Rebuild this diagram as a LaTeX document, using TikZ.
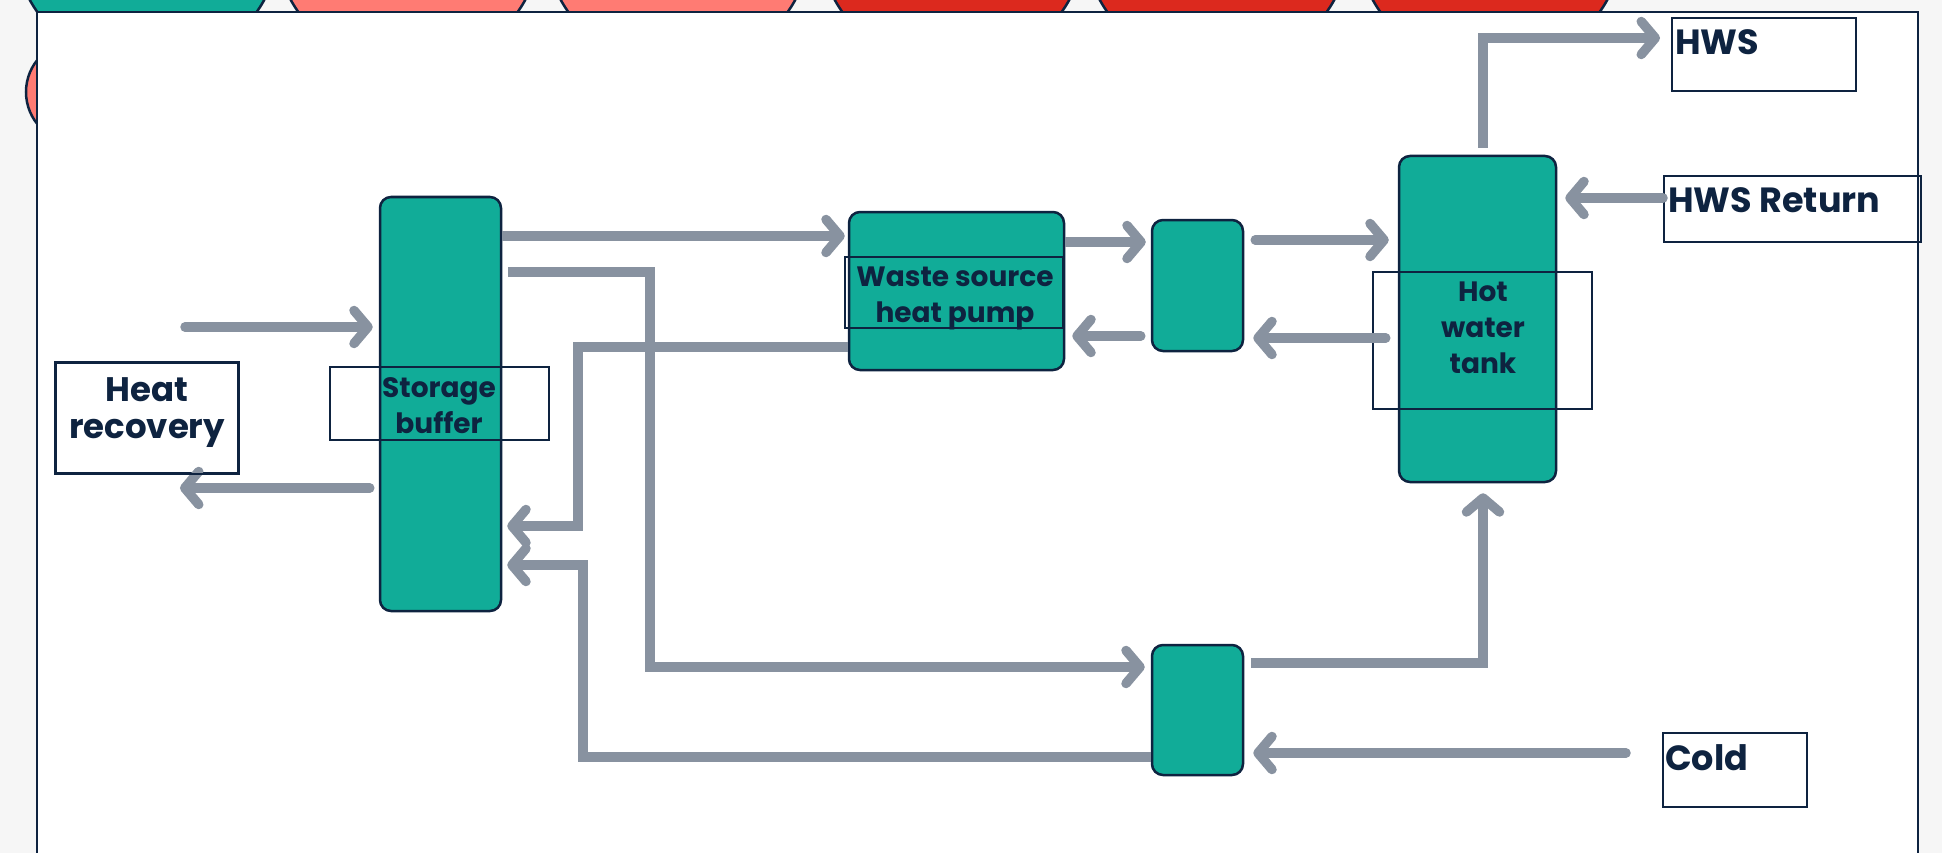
\documentclass[tikz,border=0pt]{standalone}
\usepackage{fontspec}
\setmainfont{Poppins}
\usetikzlibrary{arrows.meta,calc}
\definecolor{boxteal}{RGB}{17,172,152}
\definecolor{navy}{RGB}{14,35,64}
\definecolor{pipegray}{RGB}{136,146,160}
\definecolor{salmonc}{RGB}{255,123,115}
\definecolor{redc}{RGB}{220,41,30}
\definecolor{bggray}{RGB}{246,246,246}
\begin{document}
\begin{tikzpicture}[x=1pt,y=-1pt,
  >={Straight Barb[length=14pt,width=33pt,round]},
  unit/.style={rectangle, rounded corners=11pt, fill=boxteal, draw=navy, line width=2.5pt, inner sep=0pt},
  lbl/.style={rectangle, draw=navy, line width=2pt, inner sep=0pt},
  txt/.style={text=navy, font=\bfseries\fontsize{28}{36}\selectfont, align=center, inner sep=0pt},
  txtb/.style={text=navy, font=\bfseries\fontsize{35}{40}\selectfont, inner sep=0pt},
  pipe/.style={draw=pipegray, line width=9.5pt, line cap=round, line join=miter},
  flat/.style={line cap=butt},
  circ/.style={draw=navy, line width=2.5pt}]
\useasboundingbox (0,0) rectangle (1942,853);
\clip (0,0) rectangle (1942,853);
\fill[bggray] (0,0) rectangle (1942,853);
% decorative circles behind the frame
\foreach \cx/\col in {147/boxteal, 408/salmonc, 678/salmonc, 952/redc, 1217/redc, 1490/redc}
  \draw[circ, fill=\col] (\cx,-65) circle[radius=134];
\draw[circ, fill=salmonc] (77,92) circle[radius=51];
% frame
\draw[navy, line width=2pt, fill=white] (37,12) rectangle (1918,900);

% units
\node[unit, minimum width=121pt, minimum height=414pt] (sb) at (440.5,404) {};
\node[unit, minimum width=215pt, minimum height=158pt] (hp) at (956.5,291) {};
\node[unit, minimum width=91pt, minimum height=131pt] (hxa) at (1197.5,285.5) {};
\node[unit, minimum width=91pt, minimum height=130pt] (hxb) at (1197.5,710) {};
\node[unit, minimum width=157pt, minimum height=326pt] (hwt) at (1477.5,319) {};

% label boxes
\node[lbl, minimum width=182pt, minimum height=110pt] (hr) at (147,418) {};
\node[lbl, minimum width=219pt, minimum height=73pt] (sbl) at (439.5,403.5) {};
\node[lbl, minimum width=218pt, minimum height=71pt] (hpl) at (954,292.5) {};
\node[lbl, minimum width=219pt, minimum height=137pt] (hwtl) at (1482.5,340.5) {};
\node[lbl, minimum width=184pt, minimum height=73pt] (hws) at (1764,54.5) {};
\node[lbl, minimum width=257pt, minimum height=66pt] (hwsr) at (1792.5,209) {};
\node[lbl, minimum width=144pt, minimum height=74pt] (cold) at (1735,770) {};

% free ends
\coordinate (hrin) at (185,327);
\coordinate (hrout) at (180,488);

% connectors
\draw[pipe, ->, shorten >=6pt] (hrin) -- (sb.west |- hrin);
\draw[pipe, ->, shorten <=9pt] (sb.west |- hrout) -- (hrout);
\draw[pipe, flat, ->, shorten >=3pt] (sb.east |- 0,236) -- (hp.west |- 0,236);
\draw[pipe, flat, ->, shorten <=6pt, shorten >=6pt] (sb.east |- 0,272) -| (650,667) -- (hxb.west |- 0,667);
\draw[pipe, flat, ->, shorten >=5pt] (hp.west |- 0,347) -| (578,526) -- (sb.east |- 0,526);
\draw[pipe, flat, ->, shorten >=5pt] (hxb.west |- 0,757) -| (583,565) -- (sb.east |- 0,565);
\draw[pipe, flat, ->, shorten >=5pt] (hp.east |- 0,242) -- (hxa.west |- 0,242);
\draw[pipe, ->, shorten <=10pt, shorten >=7pt] (hxa.west |- 0,336) -- (hp.east |- 0,336);
\draw[pipe, ->, shorten <=11pt, shorten >=9pt] (hxa.east |- 0,240) -- (hwt.west |- 0,240);
\draw[pipe, ->, shorten <=12pt, shorten >=9pt] (hwt.west |- 0,338) -- (hxa.east |- 0,338);
\draw[pipe, flat, ->, shorten <=7pt, shorten >=11pt] (hwt.north -| 1483,0) |- (hws.west |- 0,38);
\draw[pipe, flat, ->, shorten <=7pt, shorten >=10pt] (hxb.east |- 0,663) -| (hwt.south -| 1483,0);
\draw[pipe, ->, shorten >=8pt] (hwsr.west |- 0,198) -- (hwt.east |- 0,198);
\draw[pipe, ->, shorten <=36pt, shorten >=9pt] (cold.west |- 0,753) -- (hxb.east |- 0,753);

% redraw label box outline over connectors
\draw[navy, line width=2pt] (hr.north west) rectangle (hr.south east);

% texts
\node[txt, font=\bfseries\fontsize{34}{37}\selectfont, anchor=north] (hrt) at (147,377) {Heat\\recovery};
\node[txt, anchor=north] (sbt) at (439,377) {Storage\\buffer};
\node[txt, anchor=north] (hpt) at (955,267) {Waste source\\heat pump};
\node[txt, anchor=north] (hwtt) at (1483,282) {Hot\\water\\tank};
\node[txtb, anchor=base west] (hwst) at (1675,55) {HWS};
\node[txtb, anchor=base west] (hwsrt) at (1668,212) {HWS Return};
\node[txtb, anchor=base west] (coldt) at (1665,770) {Cold};
\end{tikzpicture}
\end{document}
